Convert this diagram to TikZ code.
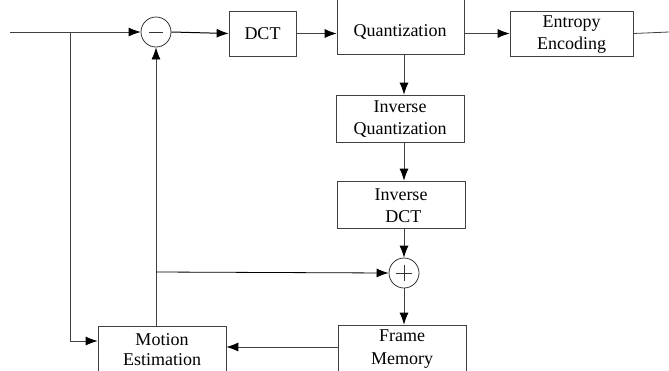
\documentclass[tikz,border=0pt]{standalone}
\usepackage{fontspec}
\setmainfont{Liberation Serif}
\usetikzlibrary{arrows.meta,calc}
\begin{document}
\begin{tikzpicture}[x=1pt,y=-1pt,
  blk/.style={draw=black!75,line width=0.7pt,rectangle,inner sep=0pt,font=\fontsize{18}{22}\selectfont,align=center},
  lbl/.style={font=\fontsize{18}{22}\selectfont,align=center,inner sep=0pt},
  sumnode/.style={draw=black!80,line width=0.8pt,circle,minimum size=30pt,inner sep=0pt},
  conn/.style={draw=black!75,line width=0.8pt,-{Latex[length=12pt,width=9pt,color=black]}},
  plain/.style={draw=black!75,line width=0.8pt}]
\useasboundingbox (0,0) rectangle (669,370);
\clip (0,0) rectangle (669,370);
% blocks
\node[blk,minimum width=67pt,minimum height=45pt] (dct) at (262.5,33.5) {DCT};
\node[blk,minimum width=127pt,minimum height=69pt] (quant) at (400.5,19.5) {};
\node[lbl] (quanttext) at (400,32) {Quantization};
\node[blk,minimum width=123pt,minimum height=45pt] (ent) at (571.5,33.5) {};
\node[lbl] (enttext) at (571.5,35) {Entropy\\Encoding};
\node[blk,minimum width=128pt,minimum height=47pt] (iq) at (400,118.5) {};
\node[lbl] (iqtext) at (400,119.5) {Inverse\\Quantization};
\node[blk,minimum width=128pt,minimum height=47pt] (idct) at (401,204.5) {};
\node[lbl] (idcttext) at (401,205.5) {Inverse\\\ DCT};
\node[blk,minimum width=128pt,minimum height=60pt] (fm) at (402,355) {};
\node[lbl,font=\fontsize{18}{23}\selectfont] (fmtext) at (402,349) {Frame\\Memory};
\node[blk,minimum width=128pt,minimum height=60pt] (me) at (162,356) {};
\node[lbl,font=\fontsize{18}{20}\selectfont] (metext) at (162,350) {Motion\\Estimation};
% summing junctions
\node[sumnode] (minus) at (156,32) {};
\draw[black!80,line width=0.8pt] ($(minus.center)+(-7,0)$) -- ($(minus.center)+(7,0)$);
\node[sumnode] (plus) at (404,273) {};
\draw[black!80,line width=0.6pt] ($(plus.center)+(-8,0)$) -- ($(plus.center)+(8,0)$)
  ($(plus.center)+(0,-8)$) -- ($(plus.center)+(0,8)$);
% coordinates
\coordinate (in) at (10,32);
\coordinate (j1) at (70,32);
\coordinate (out) at (669,32);
\coordinate (fb) at (156,272);
% connectors
\draw[conn] (in) -- (minus.west);
\draw[plain] (j1) -- (70,341) coordinate (j2);
\draw[conn] (j2) -- (j2 -| me.west);
\draw[conn,draw=black,line width=1pt] (minus.east) -- (dct.west);
\draw[conn] (dct.east) -- (dct.east -| quant.west);
\draw[conn] (quant.east |- ent.west) -- (ent.west);
\draw[plain] (ent.east) -- (out);
\draw[conn] (quant.south -| plus.north) -- (iq.north -| plus.north);
\draw[conn] (iq.south -| plus.north) -- (idct.north -| plus.north);
\draw[conn] (idct.south -| plus.north) -- (plus.north);
\draw[conn] (plus.south) -- (fm.north -| plus.south);
\draw[conn] (fm.west |- 0,347) -- (me.east |- 0,347);
\draw[conn] (me.north -| minus.south) -- (minus.south);
\draw[conn,draw=black] (fb) -- (plus.west);
\end{tikzpicture}
\end{document}
